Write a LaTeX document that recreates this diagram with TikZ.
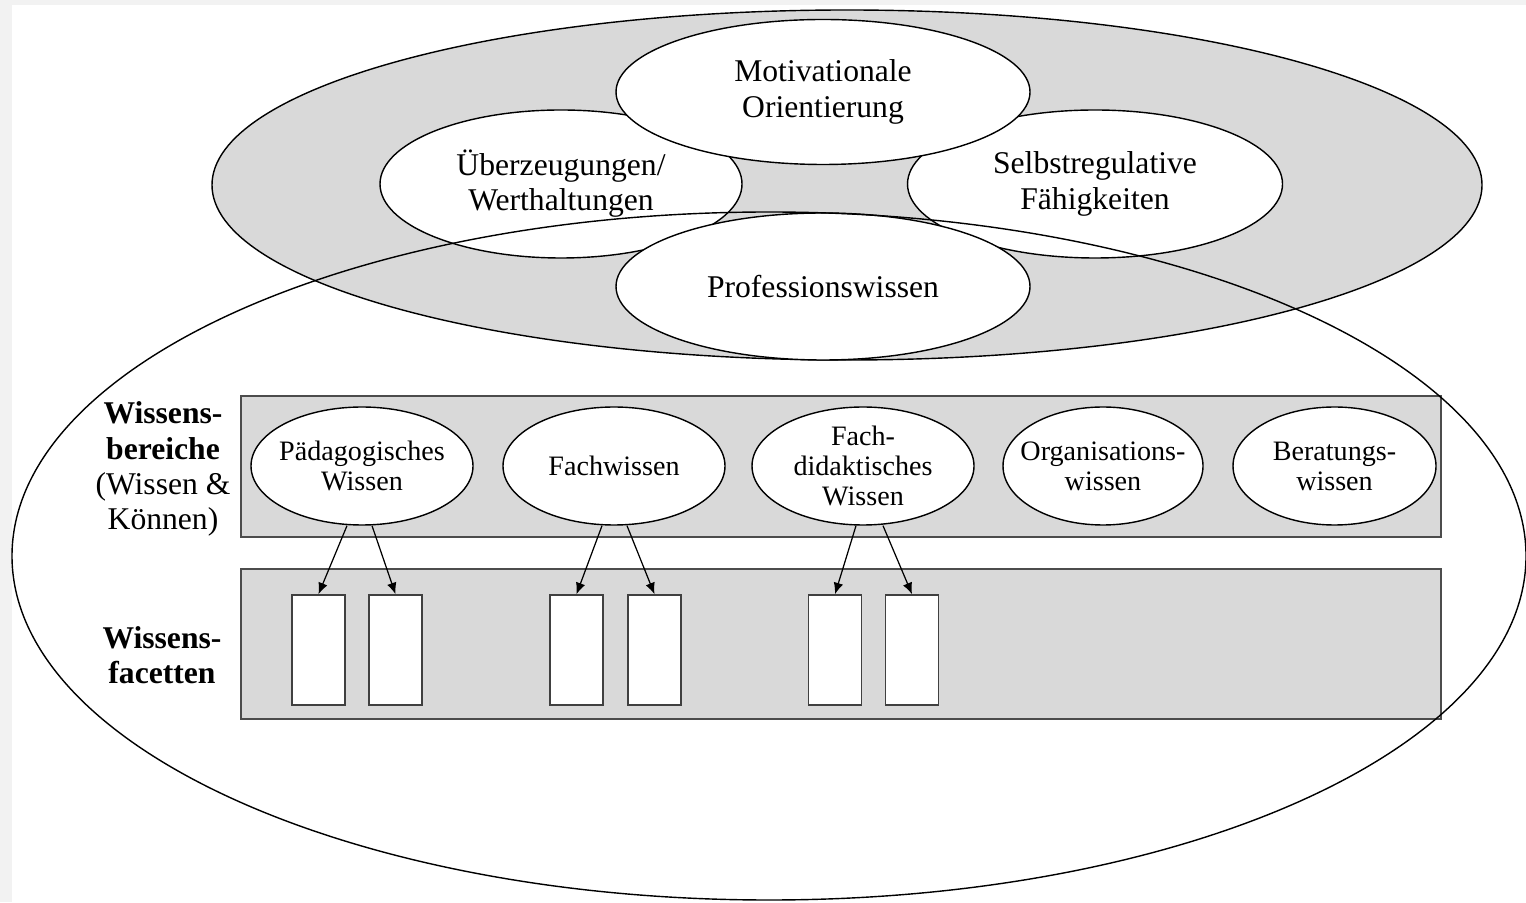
\documentclass[tikz,border=0pt]{standalone}
\usepackage{fontspec}
\setmainfont{Liberation Serif}
\usepackage{tikz}
\usetikzlibrary{shapes.geometric,arrows.meta}
\tikzset{>={Latex[length=6.5pt,width=5.5pt]}}
\usepackage{xcolor}
\definecolor{bandgray}{HTML}{D9D9D9}
\definecolor{framegray}{HTML}{F2F2F2}
\tikzset{
  upell/.style={ellipse,draw,fill=white,line width=0.8pt,inner sep=0pt,align=center,
    font=\fontsize{18}{20}\selectfont},
  lowell/.style={ellipse,draw,fill=white,line width=0.8pt,inner xsep=-8pt,inner ysep=-7pt,
    align=center,minimum width=4.44cm,minimum height=2.36cm,font=\fontsize{16}{17}\selectfont},
  facet/.style={draw=black!75,fill=white,line width=0.9pt,inner sep=0pt,
    minimum width=1.06cm,minimum height=2.2cm},
  band/.style={draw=black!70,fill=bandgray,line width=0.9pt},
  sidelbl/.style={align=center,font=\fontsize{18}{20}\selectfont}
}

\begin{document}
\begin{tikzpicture}
  % frame
  \fill[framegray] (0,0) rectangle (30.52,18.04);
  \fill[white] (0.24,0) rectangle (30.52,17.94);
  \useasboundingbox (0,0) rectangle (30.52,18.04);

  % grey ring
  \filldraw[fill=bandgray,line width=0.8pt] (16.94,14.34) ellipse (12.70 and 3.50);

  % four parts
  \node[upell,minimum width=7.24cm,minimum height=2.96cm] (ueber)  at (11.22,14.36) {Überzeugungen/\\Werthaltungen};
  \node[upell,minimum width=7.50cm,minimum height=2.96cm] (selbst) at (21.90,14.36) {Selbstregulative\\Fähigkeiten};
  \node[upell,minimum width=8.28cm,minimum height=2.94cm] (prof)   at (16.46,12.31) {Professionswissen};
  \node[upell,minimum width=8.28cm,minimum height=2.90cm] (moti)   at (16.46,16.20) {Motivationale\\Orientierung};

  % bands
  \filldraw[band] (4.82,7.30) rectangle (28.82,10.12);
  \filldraw[band] (4.82,3.66) rectangle (28.82,6.66);

  % labels left
  \node[sidelbl] (bereiche) at (3.26,8.66) {\textbf{Wissens-}\\\textbf{bereiche}\\(Wissen \&\\Können)};
  \node[sidelbl] (facetten) at (3.24,4.94) {\textbf{Wissens-}\\\textbf{facetten}};

  % Wissensbereiche
  \node[lowell] (paed) at (7.24,8.72)  {Pädagogisches\\Wissen};
  \node[lowell] (fach) at (12.28,8.72) {Fachwissen};
  \node[lowell] (fdid) at (17.26,8.72) {Fach-\\didaktisches\\Wissen};
  \node[lowell,minimum width=4.0cm] (orga) at (22.06,8.72) {Organisations-\\wissen};
  \node[lowell,minimum width=4.06cm] (bera) at (26.69,8.72) {Beratungs-\\wissen};

  % Wissensfacetten
  \node[facet] (f1) at (6.37,5.04)  {};
  \node[facet] (f2) at (7.91,5.04)  {};
  \node[facet] (f3) at (11.53,5.04) {};
  \node[facet] (f4) at (13.09,5.04) {};
  \node[facet] (f5) at (16.70,5.04) {};
  \node[facet] (f6) at (18.24,5.04) {};

  % arrows
  \draw[->,line width=0.7pt] ([xshift=-0.3cm]paed.south) -- (f1.north);
  \draw[->,line width=0.7pt] ([xshift=0.2cm]paed.south)  -- (f2.north);
  \draw[->,line width=0.7pt] ([xshift=-0.24cm]fach.south) -- (f3.north);
  \draw[->,line width=0.7pt] ([xshift=0.26cm]fach.south)  -- (f4.north);
  \draw[->,line width=0.7pt] ([xshift=-0.14cm]fdid.south) -- (f5.north);
  \draw[->,line width=0.7pt] ([xshift=0.4cm]fdid.south)   -- (f6.north);

  % big ellipse
  \draw[line width=0.8pt] (15.38,6.92) ellipse (15.14 and 6.88);
\end{tikzpicture}
\end{document}
